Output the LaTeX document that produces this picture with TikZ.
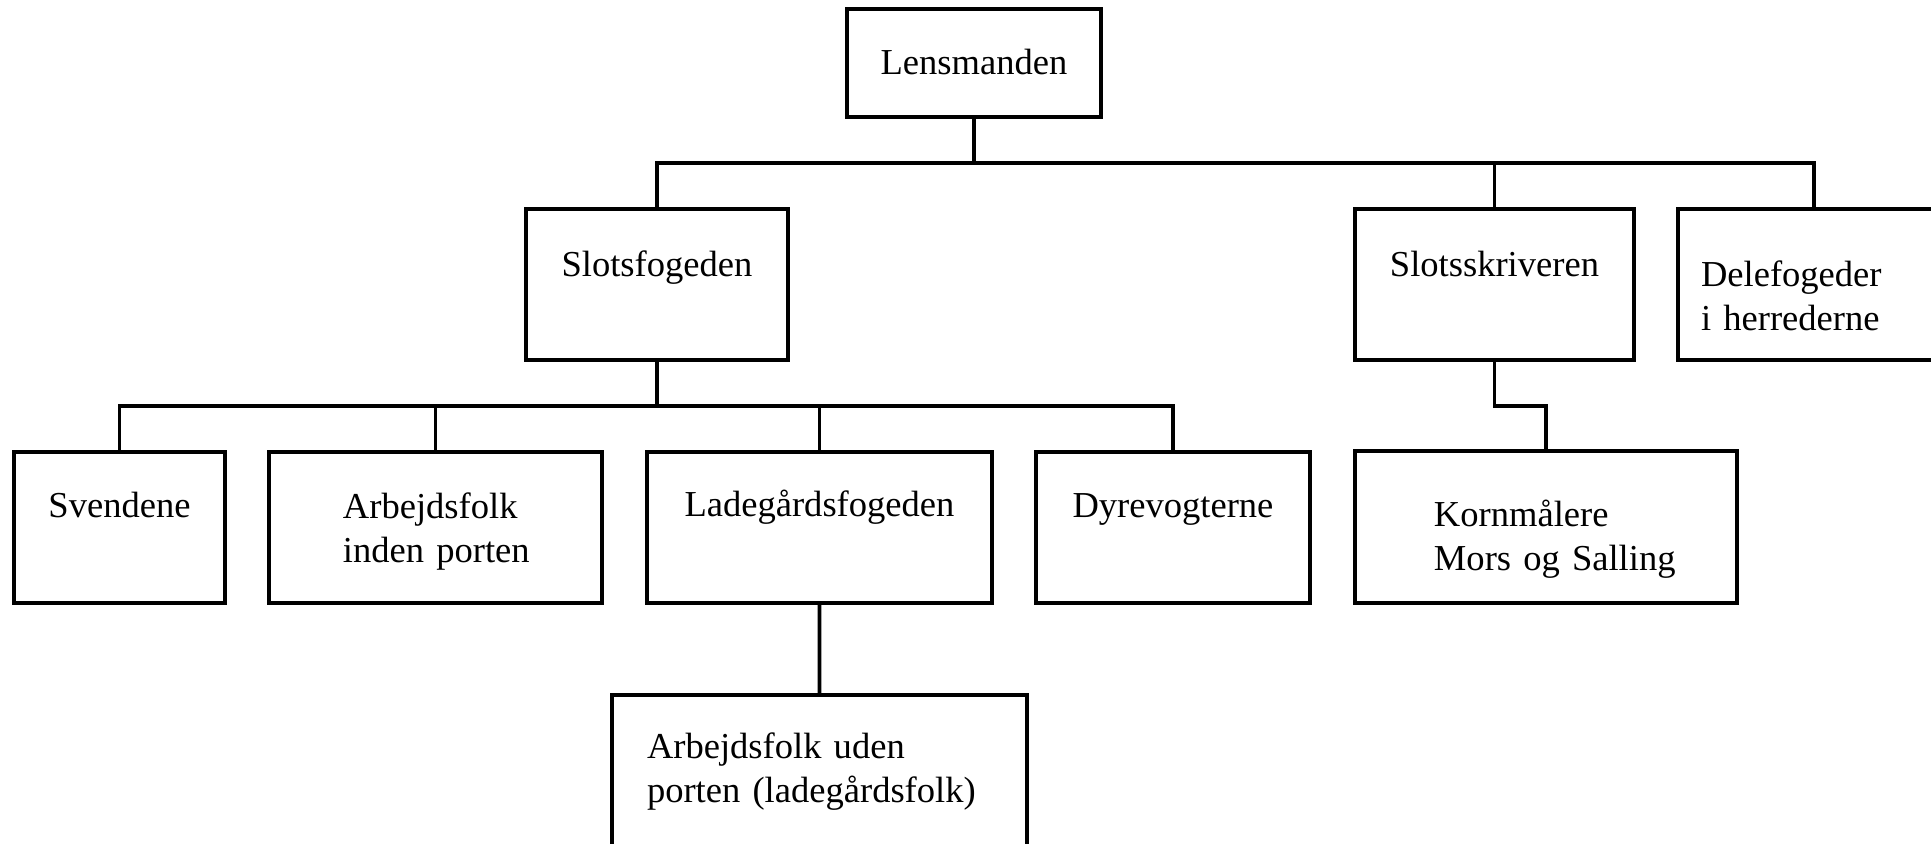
\documentclass[tikz,border=0pt]{standalone}
\usepackage{fontspec}
\setmainfont{Liberation Serif}
\usepackage{tikz}
\newcommand{\orgfont}{\fontsize{20.8}{24.5}\selectfont}

\tikzset{
  unit/.style={draw, line width=2.4pt, rectangle, anchor=north west,
    outer sep=0pt, inner ysep=0pt, inner xsep=0pt, font=\orgfont},
  link/.style={line width=2.1pt}
}

\begin{document}
\begin{tikzpicture}[x=0.02cm, y=-0.02cm]
\useasboundingbox (0,0) rectangle (1931,844);
\node[unit, text width=5.08cm, align=center, text height=1.32cm, text depth=0.84cm] (lens) at (847,9) {Lensmanden};
\node[unit, text width=5.24cm, align=center, text height=1.36cm, text depth=1.66cm] (sf) at (526,209) {Slotsfogeden};
\node[unit, text width=5.58cm, align=center, text height=1.36cm, text depth=1.66cm] (ss) at (1355,209) {Slotsskriveren};
\node[unit, inner xsep=0.46cm, text width=4.52cm, align=left, text height=1.56cm, text depth=1.46cm] (dele) at (1678,209) {Delefogeder\\i~herrederne};
\node[unit, text width=4.22cm, align=center, text height=1.32cm, text depth=1.70cm] (sv) at (14,452) {Svendene};
\node[unit, inner xsep=1.48cm, text width=3.70cm, align=left, text height=1.34cm, text depth=1.68cm] (aip) at (269,452) {Arbejdsfolk\\inden~porten};
\node[unit, text width=6.90cm, align=center, text height=1.30cm, text depth=1.72cm] (lf) at (647,452) {Ladegårdsfogeden};
\node[unit, text width=5.48cm, align=center, text height=1.32cm, text depth=1.70cm] (dv) at (1036,452) {Dyrevogterne};
\node[unit, inner xsep=1.58cm, text width=4.48cm, align=left, text height=1.52cm, text depth=1.52cm] (km) at (1355,451) {Kornmålere\\Mors~og~Salling};
\node[unit, inner xsep=0.70cm, text width=6.90cm, align=left, text height=1.28cm, text depth=2.82cm] (auf) at (612,695) {Arbejdsfolk~uden\\porten~(ladegårdsfolk)};

\coordinate (bus1) at (974,163);
\coordinate (bus2) at (657,406);
\draw[link] (lens.south) -- (bus1);
\draw[link] (sf.north) |- (dele.north |- bus1) -- (dele.north);
\draw[link] (ss.north) -- (ss.north |- bus1);
\draw[link] (sf.south) -- (bus2);
\draw[link] (sv.north) |- (dv.north |- bus2) -- (dv.north);
\draw[link] (aip.north) -- (aip.north |- bus2);
\draw[link] (lf.north) -- (lf.north |- bus2);
\draw[link] (ss.south) |- (km.north |- bus2) -- (km.north);
\draw[link] (lf.south) -- (auf.north);
\end{tikzpicture}
\end{document}
